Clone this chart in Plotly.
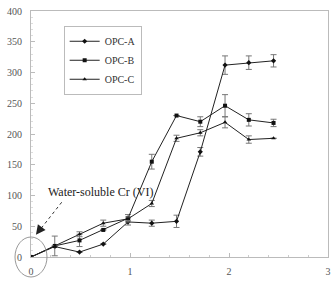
import plotly.graph_objects as go

# Data
x_vals = [0, 0.24, 0.49, 0.73, 0.98, 1.22, 1.47, 1.71, 1.96, 2.2, 2.45]

opc_a = [0, 17, 8, 21, 57, 55, 58, 171, 312, 316, 319]
opc_a_err = [0, 0, 0, 0, 5, 5, 10, 7, 15, 11, 10]

opc_b = [0, 18, 27, 44, 63, 155, 230, 220, 246, 223, 218]
opc_b_err = [0, 16, 10, 0, 6, 12, 0, 8, 18, 10, 6]

opc_c = [0, 18, 37, 55, 62, 87, 193, 202, 219, 191, 193]
opc_c_err = [0, 0, 4, 5, 3, 5, 5, 5, 9, 6, 0]

series_names = ["OPC-A", "OPC-B", "OPC-C"]
series_vals = [opc_a, opc_b, opc_c]
series_errs = [opc_a_err, opc_b_err, opc_c_err]
symbols = ["diamond", "square", "triangle-up"]

y_ticks = [0, 50, 100, 150, 200, 250, 300, 350, 400]
x_ticks = [0, 1, 2, 3]

fig = go.Figure()
for name, vals, errs, sym in zip(series_names, series_vals, series_errs, symbols):
    fig.add_trace(go.Scatter(
        x=x_vals, y=vals, name=name, mode="lines+markers",
        line=dict(color="#222222", width=1),
        marker=dict(symbol=sym, size=4, color="#111111"),
        error_y=dict(type="data", array=errs, visible=True,
                     color="#777777", thickness=1, width=3),
    ))

serif = "Liberation Serif, Times New Roman, serif"

fig.update_layout(
    width=336, height=282,
    margin=dict(l=31, r=5, t=10, b=25),
    paper_bgcolor="white", plot_bgcolor="white",
    font=dict(family=serif, size=10, color="#555555"),
    showlegend=True,
    legend=dict(
        x=0.11, y=0.94, xanchor="left", yanchor="top",
        bgcolor="white", bordercolor="#bbbbbb", borderwidth=1,
        font=dict(family=serif, size=10, color="#333333"),
        tracegroupgap=0, itemwidth=30,
    ),
    xaxis=dict(
        range=[0, 3], tickvals=x_ticks, ticktext=[str(v) for v in x_ticks],
        showgrid=False, zeroline=False,
        showline=True, linecolor="#bbbbbb", linewidth=1, mirror=True,
        ticks="inside", ticklen=4, tickcolor="#bbbbbb",
        minor=dict(dtick=0.2, ticks="inside", ticklen=2, tickcolor="#cccccc"),
        ticklabelstandoff=5,
    ),
    yaxis=dict(
        range=[0, 400], tickvals=y_ticks, ticktext=[str(v) for v in y_ticks],
        showgrid=False, zeroline=False,
        showline=True, linecolor="#bbbbbb", linewidth=1, mirror=True,
        ticks="inside", ticklen=4, tickcolor="#bbbbbb",
        minor=dict(dtick=10, ticks="inside", ticklen=2, tickcolor="#dddddd"),
        ticklabelstandoff=6,
    ),
)

# Circle around the origin
fig.add_shape(type="circle", xref="paper", yref="paper",
              xsizemode="pixel", ysizemode="pixel", xanchor=0, yanchor=0,
              x0=-16, x1=16, y0=-20, y1=20,
              line=dict(color="#999999", width=1))

# Dotted arrow line
fig.add_shape(type="line", xref="x", yref="y",
              x0=0.31, y0=89, x1=0.07, y1=40,
              line=dict(color="#333333", width=1, dash="dot"))
fig.add_annotation(x=0.05, y=36, xref="x", yref="y", ax=6, ay=-8,
                   text="", showarrow=True, arrowhead=2, arrowsize=1.6,
                   arrowwidth=1.2, arrowcolor="#222222")

fig.add_annotation(x=0.70, y=105, xref="x", yref="y", text="Water-soluble Cr (VI)",
                   showarrow=False, font=dict(family=serif, size=12, color="#222222"))

fig.write_html("out.html")
